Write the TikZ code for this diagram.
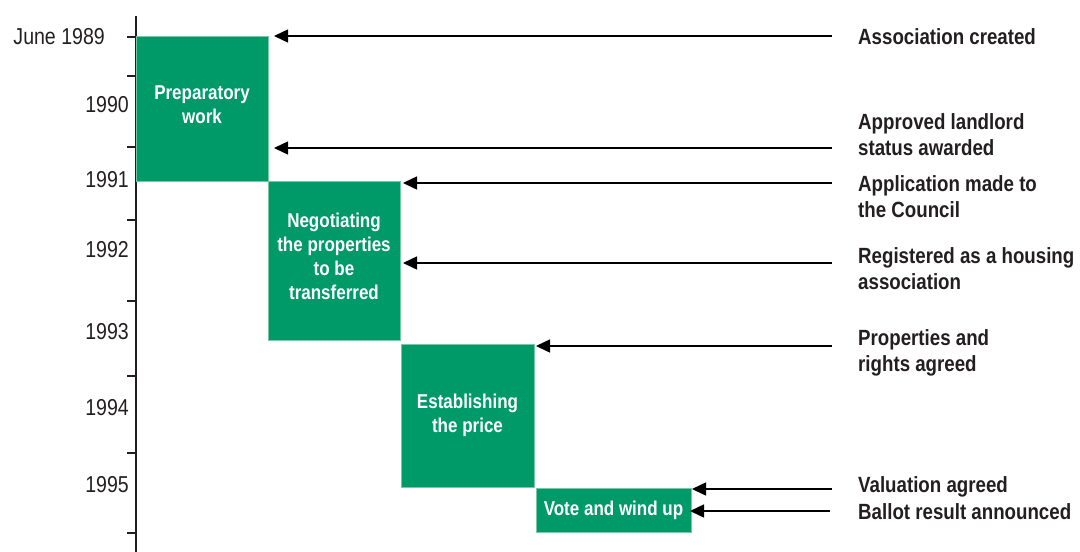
\documentclass[tikz,border=0pt]{standalone}
\usepackage{fontspec}
\setmainfont{Liberation Sans}[FakeStretch=0.85]
\usetikzlibrary{arrows.meta}
\definecolor{phasegreen}{RGB}{0,154,104}
\definecolor{phaseedge}{RGB}{120,200,165}
\definecolor{inkgrey}{RGB}{35,31,32}
\tikzset{phase/.style={rectangle, fill=phasegreen, draw=phaseedge, line width=0.6pt,
                       text=white, align=center, inner sep=0pt,
                       font=\fontsize{20}{24}\selectfont\bfseries},
         event/.style={anchor=west, align=left, inner sep=0pt, text=inkgrey,
                       font=\fontsize{22}{26}\selectfont\bfseries},
         yearlabel/.style={anchor=east, inner sep=0pt, text=inkgrey,
                       font=\fontsize{23}{26}\selectfont},
         yeartick/.style={line width=1.5pt, draw=inkgrey},
         pointer/.style={line width=1.5pt, draw=black, -{Triangle[length=14pt,width=13pt]}}}
\begin{document}
\begin{tikzpicture}[x=1pt, y=-1pt]
            \useasboundingbox (0,0) rectangle (1080,552);

            % time axis
            \coordinate (axistop) at (136,16);
            \coordinate (axisbot) at (136,552);
            \draw[yeartick] (axistop) -- (axisbot);
            \draw[yeartick] (127,37) -- (136,37);
            \draw[yeartick] (127,76) -- (136,76);
            \draw[yeartick] (127,147) -- (136,147);
            \draw[yeartick] (127,220) -- (136,220);
            \draw[yeartick] (127,301) -- (136,301);
            \draw[yeartick] (127,376) -- (136,376);
            \draw[yeartick] (127,453) -- (136,453);
            \draw[yeartick] (127,533) -- (136,533);

            \node[yearlabel] (june89) at (105,37) {June 1989};
            \node[yearlabel] (y90) at (129,105) {1990};
            \node[yearlabel] (y91) at (129,180) {1991};
            \node[yearlabel] (y92) at (129,250) {1992};
            \node[yearlabel] (y93) at (129,332) {1993};
            \node[yearlabel] (y94) at (129,408) {1994};
            \node[yearlabel] (y95) at (129,485) {1995};

            % phases
            \node[phase, minimum width=132pt, minimum height=145pt] (prep) at (202,108.5)
                {Preparatory\\work\\[-16pt]};
            \node[phase, minimum width=132pt, minimum height=159pt] (negot) at (334,260.5)
                {Negotiating\\the properties\\to be\\transferred\\[-16pt]};
            \node[phase, minimum width=133pt, minimum height=143pt] (price) at (467.5,415.5)
                {Establishing\\the price};
            \node[phase, minimum width=155pt, minimum height=44pt] (vote) at (613.5,510)
                {Vote and wind up};

            % events
            \node[event] (created) at (858,37) {Association created};
            \node[event] (approved) at (858,135) {Approved landlord\\status awarded};
            \node[event] (applied) at (858,197) {Application made to\\the Council};
            \node[event] (registered) at (858,269) {Registered as a housing\\association};
            \node[event] (agreed) at (858,353) {Properties and\\rights agreed};
            \node[event] (valued) at (858,487) {Valuation agreed};
            \node[event] (ballot) at (858,512) {Ballot result announced};

            \coordinate (createdS) at (832,36);
            \coordinate (createdT) at (274,36);
            \coordinate (approvedS) at (832,148);
            \coordinate (approvedT) at (274,148);
            \coordinate (appliedS) at (832,183);
            \coordinate (appliedT) at (403,183);
            \coordinate (registeredS) at (832,263);
            \coordinate (registeredT) at (403,263);
            \coordinate (agreedS) at (832,346);
            \coordinate (agreedT) at (536,346);
            \coordinate (valuedS) at (832,489);
            \coordinate (valuedT) at (692,489);
            \coordinate (ballotS) at (830,511);
            \coordinate (ballotT) at (690,511);

            \draw[pointer] (createdS) -- (createdT);
            \draw[pointer] (approvedS) -- (approvedT);
            \draw[pointer] (appliedS) -- (appliedT);
            \draw[pointer] (registeredS) -- (registeredT);
            \draw[pointer] (agreedS) -- (agreedT);
            \draw[pointer] (valuedS) -- (valuedT);
            \draw[pointer] (ballotS) -- (ballotT);
\end{tikzpicture}
\end{document}
